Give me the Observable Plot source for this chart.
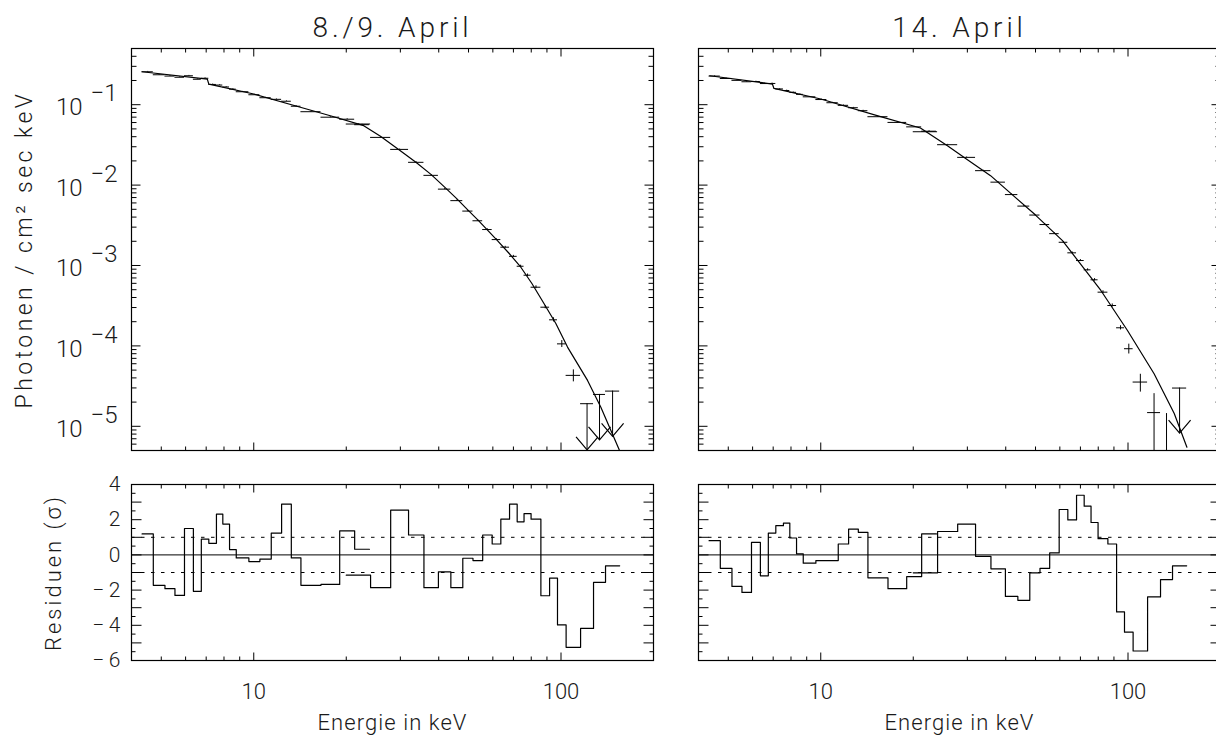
<!DOCTYPE html>
<html><head><meta charset="utf-8">
<script src="https://cdn.jsdelivr.net/npm/d3@7"></script>
<script src="https://cdn.jsdelivr.net/npm/@observablehq/plot@0.6"></script>
<style>
html,body{margin:0;padding:0;background:#fff;overflow:hidden;}
#wrap{position:relative;width:1216px;height:736px;overflow:hidden;background:#fff;}
#wrap > svg{position:absolute;}
</style></head><body><div id="wrap"></div>
<script>
// ---------- data ----------
const titles = ["8./9. April", "14. April"];
const yLabelTop = "Photonen / cm² sec keV";
const yLabelRes = "Residuen (σ)";
const xLabel = "Energie in keV";

// energy bin edges (keV): low-energy detector and high-energy detector
const leEdges = [4.33, 4.71, 5.14, 5.54, 5.95, 6.36, 6.75, 7.14, 7.56, 7.93, 8.34, 8.77, 9.64, 10.47, 11.40, 12.32, 13.25, 14.24, 16.55, 19.04, 21.3, 23.8];
const heEdges = [20.0, 24.0, 27.9, 31.9, 35.8, 39.9, 43.8, 47.9, 51.7, 55.6, 59.7, 63.7, 68.0, 72.0, 75.8, 79.9, 86.0, 91.8, 97.4, 103.9, 115.8, 127.6, 139.6, 155.2];

// 8./9. April
const leFluxA = [0.2568, 0.2357, 0.2270, 0.2194, 0.2291, 0.2072, 0.2132, 0.1786, 0.1755, 0.1662, 0.1561, 0.1449, 0.1330, 0.1221, 0.1166, 0.1104, 0.0957, 0.0818, 0.0699, 0.0660, 0.0564];
const leErrA  = [0.01, 0.01, 0.01, 0.01, 0.01, 0.01, 0.01, 0.01, 0.01, 0.01, 0.01, 0.01, 0.01, 0.01, 0.01, 0.01, 0.012, 0.012, 0.012, 0.012, 0.012];
const heFluxA = [0.0575, 0.0392, 0.0278, 0.0192, 0.01322, 8.91e-3, 6.41e-3, 4.75e-3, 3.60e-3, 2.80e-3, 2.10e-3, 1.69e-3, 1.30e-3, 9.79e-4, 7.57e-4, 5.37e-4, 3.03e-4, 2.11e-4, 1.06e-4, 4.30e-5];
const heErrA  = [0.008, 0.01, 0.01, 0.012, 0.012, 0.014, 0.016, 0.018, 0.02, 0.02, 0.022, 0.025, 0.028, 0.03, 0.035, 0.04, 0.045, 0.06, 0.10, 0.17];
const ulFluxA = [1.91e-5, 2.49e-5, 2.74e-5];
const ulTipA  = [5.1e-6, 6.8e-6, 7.5e-6];
const modelEA = [4.33, 7.06, 7.14, 10.0, 15.35, 17.75, 22.8, 25.84, 29.84, 33.79, 37.81, 41.81, 45.77, 49.8, 53.7, 57.65, 62.1, 67.6, 74.0, 80.4, 88.1, 96.2, 105, 122, 134.8, 154.7];
const modelFA = [0.257, 0.2084, 0.1806, 0.1357, 0.0854, 0.0729, 0.0548, 0.0406, 0.0272, 0.01912, 0.01349, 9.44e-3, 6.79e-3, 4.89e-3, 3.67e-3, 2.76e-3, 2.04e-3, 1.43e-3, 9.52e-4, 5.97e-4, 3.34e-4, 1.90e-4, 9.66e-5, 3.72e-5, 1.73e-5, 5.1e-6];
const leResA  = [1.19, -1.73, -1.92, -2.30, 1.50, -2.07, 0.90, 0.66, 2.32, 1.75, 0.30, -0.17, -0.38, -0.24, 1.24, 2.88, -0.17, -1.73, -1.68, 1.37, 0.32];
const heResA  = [-1.15, -1.86, 2.54, 1.13, -1.86, -0.96, -1.86, -0.19, -0.32, 1.13, 0.62, 2.03, 2.88, 1.88, 2.35, 2.03, -2.32, -1.32, -3.98, -5.25, -4.18, -1.56, -0.62];

// 14. April
const leFluxB = [0.2270, 0.2120, 0.2008, 0.1929, 0.1940, 0.1832, 0.1837, 0.1570, 0.1500, 0.1425, 0.1345, 0.1253, 0.1159, 0.1058, 0.0982, 0.0917, 0.0842, 0.0709, 0.0602, 0.0530, 0.0468];
const leErrB  = [0.01, 0.01, 0.01, 0.01, 0.01, 0.01, 0.01, 0.01, 0.01, 0.01, 0.01, 0.01, 0.01, 0.01, 0.01, 0.01, 0.012, 0.012, 0.012, 0.012, 0.012];
const heFluxB = [0.0461, 0.0318, 0.02213, 0.01512, 0.01088, 7.62e-3, 5.48e-3, 4.24e-3, 3.23e-3, 2.49e-3, 1.945e-3, 1.437e-3, 1.153e-3, 8.83e-4, 6.64e-4, 4.66e-4, 3.18e-4, 1.68e-4, 9.22e-5, 3.55e-5, 1.48e-5, 3.0e-6];
const heErrB  = [0.008, 0.01, 0.01, 0.012, 0.012, 0.014, 0.016, 0.018, 0.02, 0.02, 0.022, 0.025, 0.028, 0.03, 0.035, 0.04, 0.045, 0.06, 0.14, 0.25, 0.72, 3.8];
const ulFluxB = [2.99e-5];
const ulTipB  = [8.25e-6];
const modelEB = [4.35, 6.96, 7.04, 10.0, 15.35, 21.1, 25.84, 29.86, 35.7, 49.8, 61.2, 81.6, 99.6, 121.6, 141.4, 155.5];
const modelFB = [0.2291, 0.1806, 0.1593, 0.1176, 0.0725, 0.0513, 0.0309, 0.0210, 0.01311, 4.3e-3, 2.04e-3, 4.89e-4, 1.556e-4, 4.51e-5, 1.44e-5, 5.5e-6];
const leResB  = [0.81, -0.76, -1.79, -2.13, 0.71, -1.19, 1.24, 1.66, 1.81, 0.96, 0.06, -0.47, -0.32, -0.32, 0.62, 1.47, 1.28, -1.30, -1.92, -1.23, 1.19];
const heResB  = [-1.02, 1.33, 1.75, -0.08, -0.79, -2.36, -2.58, -1.02, -0.76, 0.11, 2.58, 1.99, 3.39, 2.77, 1.84, 0.92, 0.62, -3.24, -4.39, -5.46, -2.39, -1.40, -0.62];

// axes
const xDomain = [4, 200];
const fluxDomain = [5e-6, 0.5];
const resDomain = [-6, 4];
const xMajor = [10, 100];
const xMinor = [5, 6, 7, 8, 9, 20, 30, 40, 50, 60, 70, 80, 90];
const fluxMajor = [1e-5, 1e-4, 1e-3, 1e-2, 1e-1];
const resLabels = [4, 2, 0, -2, -4, -6];
const resMajor = [-5, -4, -3, -2, -1, 0, 1, 2, 3];
const resMinor = [-5.5, -4.5, -3.5, -2.5, -1.5, -0.5, 0.5, 1.5, 2.5, 3.5];

// ---------- styling ----------
const FONT = "Roboto, 'Open Sans', sans-serif";
const TXT = {fill: "#1a1a1a", fontWeight: 300};
// rendered widths (px) of the spaced-out labels
const textWidths = {"8./9. April": 160, "Photonen / cm² sec keV": 318, "Residuen (σ)": 157, "Energie in keV": 150};

// ---------- helpers ----------
const fluxMinor = [];
for (const m of fluxMajor.concat([1])) for (let k = 2; k <= 9; k++) {
  const v = m / 10 * k;
  if (v > fluxDomain[0] && v < fluxDomain[1]) fluxMinor.push(v);
}
function seg(dx, dy) { return {draw(c) { c.moveTo(0, 0); c.lineTo(dx, dy); }}; }
const arrowHead = {draw(c) { c.moveTo(-11, -13); c.lineTo(0, 0); c.lineTo(11, -13); }};
const binRecs = (edges, vals, errs, off = 0) => vals.map((v, i) => ({
  lo: edges[i + off], hi: edges[i + off + 1], c: Math.sqrt(edges[i + off] * edges[i + off + 1]), v, e: errs ? errs[i] : 0
}));
const stepRecs = (edges, vals) => edges.map((x, i) => ({x, v: vals[Math.min(i, vals.length - 1)]}));

function frameTicks(yDom, yMaj, yMin, LM, Lm) {
  const [x0, x1] = xDomain, [y0, y1] = yDom;
  const s = {fill: "none", stroke: "black", strokeWidth: 1};
  return [
    Plot.dot(xMajor, {x: d => d, y: () => y0, symbol: seg(0, -8), ...s}),
    Plot.dot(xMinor, {x: d => d, y: () => y0, symbol: seg(0, -4), ...s}),
    Plot.dot(xMajor, {x: d => d, y: () => y1, symbol: seg(0, 8), ...s}),
    Plot.dot(xMinor, {x: d => d, y: () => y1, symbol: seg(0, 4), ...s}),
    Plot.dot(yMaj, {x: () => x0, y: d => d, symbol: seg(LM, 0), ...s}),
    Plot.dot(yMin, {x: () => x0, y: d => d, symbol: seg(Lm, 0), ...s}),
    Plot.dot(yMaj, {x: () => x1, y: d => d, symbol: seg(-LM, 0), ...s}),
    Plot.dot(yMin, {x: () => x1, y: d => d, symbol: seg(-Lm, 0), ...s})
  ];
}

function topPanel({title, leFlux, leErr, heFlux, heErr, ulFlux, ulTip, modelE, modelF, left}) {
  const lePts = binRecs(leEdges, leFlux, leErr);
  const hePts = binRecs(heEdges, heFlux, heErr);
  const ulOff = heEdges.length - 1 - ulFlux.length;
  const ul = binRecs(heEdges, ulFlux, null, ulOff).map((d, i) => ({...d, tip: ulTip[i]}));
  const model = modelE.map((e, i) => ({e, f: modelF[i]}));
  const pts = lePts.concat(hePts);
  const marks = [
    Plot.ruleY(pts, {y: "v", x1: "lo", x2: "hi", stroke: "black", strokeWidth: 1, clip: true}),
    Plot.ruleX(pts, {x: "c", y1: d => Math.max(d.v * (1 - d.e), 1e-7), y2: d => d.v * (1 + d.e), stroke: "black", strokeWidth: 1, clip: true}),
    Plot.ruleY(ul, {y: "v", x1: "lo", x2: "hi", stroke: "black", strokeWidth: 1}),
    Plot.ruleX(ul, {x: "c", y1: "tip", y2: "v", stroke: "black", strokeWidth: 1}),
    Plot.dot(ul, {x: "c", y: "tip", symbol: arrowHead, fill: "none", stroke: "black", strokeWidth: 1.2}),
    Plot.line(model, {x: "e", y: "f", stroke: "black", strokeWidth: 1.2, clip: true}),
    Plot.frame({stroke: "black", strokeWidth: 1.2}),
    ...frameTicks(fluxDomain, fluxMajor, fluxMinor, 9, 5),
    Plot.text([title], {text: d => d, frameAnchor: "top", textAnchor: "middle", dy: -12, lineAnchor: "bottom", fontSize: 28, ...TXT})
  ];
  if (left) {
    marks.push(
      Plot.text(fluxMajor, {x: () => xDomain[0], y: d => d, text: () => "10", textAnchor: "end", dx: -49, dy: 3, fontSize: 24, ...TXT}),
      Plot.text(fluxMajor, {x: () => xDomain[0], y: d => d, text: d => "−" + Math.round(-Math.log10(d)), textAnchor: "end", dx: -14, dy: -11, fontSize: 24, ...TXT}),
      Plot.text([yLabelTop], {text: d => d, frameAnchor: "left", textAnchor: "middle", dx: -107, rotate: -90, fontSize: 23, ...TXT})
    );
  }
  return Plot.plot({
    width: left ? 660 : 560, height: 460,
    marginLeft: left ? 131 : 38, marginRight: left ? 7 : 0, marginTop: 48, marginBottom: 10,
    style: {fontFamily: FONT, background: "transparent", overflow: "visible"},
    x: {type: "log", domain: xDomain, axis: null},
    y: {type: "log", domain: fluxDomain, axis: null},
    marks
  });
}

function resPanel({leRes, heRes, left}) {
  const marks = [
    Plot.ruleY([-1, 1], {stroke: "black", strokeWidth: 1, strokeDasharray: "3.5,6.5"}),
    Plot.ruleY([0], {stroke: "black", strokeWidth: 1}),
    Plot.line(stepRecs(leEdges, leRes), {x: "x", y: "v", curve: "step-after", stroke: "black", strokeWidth: 1.2}),
    Plot.line(stepRecs(heEdges, heRes), {x: "x", y: "v", curve: "step-after", stroke: "black", strokeWidth: 1.2}),
    Plot.frame({stroke: "black", strokeWidth: 1.2}),
    ...frameTicks(resDomain, resMajor, resMinor, 10, 4),
    Plot.text(xMajor, {x: d => d, y: () => resDomain[0], text: d => String(d), dy: 38, lineAnchor: "bottom", fontSize: 22, ...TXT}),
    Plot.text([xLabel], {text: d => d, frameAnchor: "bottom", textAnchor: "middle", dy: 69, lineAnchor: "bottom", fontSize: 22, ...TXT})
  ];
  if (left) {
    marks.push(
      Plot.text(resLabels, {x: () => xDomain[0], y: d => d, text: d => d < 0 ? "−\u2009" + (-d) : String(d), textAnchor: "end", dx: -11, fontSize: 21, ...TXT}),
      Plot.text([yLabelRes], {text: d => d, frameAnchor: "left", textAnchor: "middle", dx: -78, rotate: -90, fontSize: 22, ...TXT})
    );
  }
  return Plot.plot({
    width: left ? 660 : 560, height: 262,
    marginLeft: left ? 131 : 38, marginRight: left ? 7 : 0, marginTop: 10, marginBottom: 76,
    style: {fontFamily: FONT, background: "transparent", overflow: "visible"},
    x: {type: "log", domain: xDomain, axis: null},
    y: {domain: resDomain, axis: null},
    marks
  });
}

const wrap = document.getElementById("wrap");
function place(svg, left, top) { svg.style.left = left + "px"; svg.style.top = top + "px"; svg.style.maxWidth = "none"; wrap.appendChild(svg); }
place(topPanel({title: titles[0], leFlux: leFluxA, leErr: leErrA, heFlux: heFluxA, heErr: heErrA, ulFlux: ulFluxA, ulTip: ulTipA, modelE: modelEA, modelF: modelFA, left: true}), 0, 0);
place(topPanel({title: titles[1], leFlux: leFluxB, leErr: leErrB, heFlux: heFluxB, heErr: heErrB, ulFlux: ulFluxB, ulTip: ulTipB, modelE: modelEB, modelF: modelFB, left: false}), 660, 0);
place(resPanel({leRes: leResA, heRes: heResA, left: true}), 0, 474);
place(resPanel({leRes: leResB, heRes: heResB, left: false}), 660, 474);

// spread the labels to the IDL-like spacing of the original
const spacing = {};
wrap.querySelectorAll("text").forEach(t => {
  const s = t.textContent;
  if (s in textWidths) {
    const ls = (textWidths[s] - t.getComputedTextLength()) / s.length;
    t.setAttribute("letter-spacing", ls.toFixed(2));
    spacing[s] = ls;
  }
});
wrap.querySelectorAll("text").forEach(t => {
  if (t.textContent === titles[1] && spacing[titles[0]] != null) t.setAttribute("letter-spacing", spacing[titles[0]].toFixed(2));
});
</script></body></html>
